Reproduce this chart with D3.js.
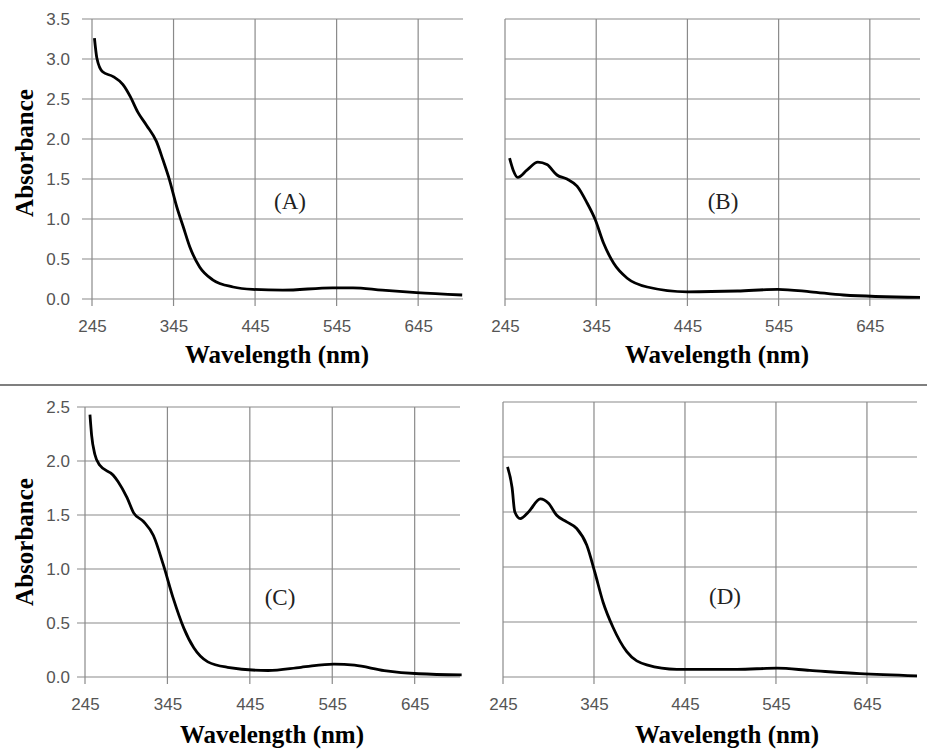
<!DOCTYPE html>
<html>
<head>
<meta charset="utf-8">
<script src="https://cdn.jsdelivr.net/npm/d3@7"></script>
<style>
  body { margin: 0; background: #fff; }
  .tick text { font-family: "Liberation Sans", sans-serif; fill: #555; }
</style>
</head>
<body>
<script>
// spectra (wavelength nm, absorbance)
var wavelengthA = [248, 251, 258, 271, 283, 292, 301, 312, 324, 332, 340, 349, 357, 365, 377, 393, 418, 442, 479, 540, 565, 601, 643, 699];
var absorbA     = [3.26, 3.01, 2.84, 2.78, 2.68, 2.53, 2.34, 2.17, 1.97, 1.74, 1.49, 1.15, 0.90, 0.65, 0.40, 0.24, 0.15, 0.12, 0.11, 0.14, 0.14, 0.11, 0.08, 0.05];

var wavelengthB = [250, 254, 259, 269, 281, 291, 302, 313, 324, 335, 344, 353, 364, 379, 401, 445, 500, 544, 580, 616, 700];
var absorbB     = [1.76, 1.61, 1.52, 1.61, 1.71, 1.68, 1.55, 1.50, 1.41, 1.20, 0.99, 0.70, 0.45, 0.26, 0.15, 0.09, 0.10, 0.12, 0.09, 0.05, 0.02];

var wavelengthC = [251, 253, 257, 263, 279, 285, 296, 304, 316, 328, 340, 352, 365, 377, 394, 418, 467, 507, 547, 572, 608, 650, 702];
var absorbC     = [2.43, 2.24, 2.06, 1.96, 1.87, 1.81, 1.66, 1.52, 1.44, 1.31, 1.04, 0.73, 0.45, 0.27, 0.14, 0.09, 0.06, 0.09, 0.12, 0.11, 0.06, 0.03, 0.02];

var wavelengthD = [250, 255, 258, 264, 273, 286, 295, 304, 315, 326, 337, 346, 355, 366, 381, 403, 436, 502, 546, 582, 637, 700];
var absorbD     = [1.91, 1.72, 1.50, 1.44, 1.50, 1.62, 1.58, 1.47, 1.41, 1.35, 1.20, 0.95, 0.68, 0.45, 0.23, 0.11, 0.07, 0.07, 0.08, 0.06, 0.03, 0.01];

var xTicks = [245, 345, 445, 545, 645];
var yTicksAB = [0, 0.5, 1, 1.5, 2, 2.5, 3, 3.5];
var yTicksCD = [0, 0.5, 1, 1.5, 2, 2.5];
var panelLabels = ["(A)", "(B)", "(C)", "(D)"];

var w = 927, h = 750;

var svg = d3.select("body").append("svg")
    .attr("width", w)
    .attr("height", h);

// layout of each panel on the page
var panels = [
    {x: wavelengthA, y: absorbA, yTicks: yTicksAB, yMax: 3.5, left: 92, right: 463, top: 19, bottom: 299, showY: true, ext: 10,
     label: panelLabels[0], lx: 290, ly: 202, titleX: 277, tickY: 333, titleY: 363, yTitleMid: 153},
    {x: wavelengthB, y: absorbB, yTicks: yTicksAB, yMax: 3.5, left: 505, right: 920, top: 19, bottom: 299, showY: false, ext: 0,
     label: panelLabels[1], lx: 723, ly: 202, titleX: 717, tickY: 333, titleY: 363},
    {x: wavelengthC, y: absorbC, yTicks: yTicksCD, yMax: 2.5, left: 85, right: 460, top: 407, bottom: 677, showY: true, ext: 8,
     label: panelLabels[2], lx: 280, ly: 598, titleX: 272, tickY: 711, titleY: 743, yTitleMid: 542},
    {x: wavelengthD, y: absorbD, yTicks: yTicksCD, yMax: 2.5, left: 503, right: 917, top: 402, bottom: 677, showY: false, ext: 0,
     label: panelLabels[3], lx: 725, ly: 597, titleX: 727, tickY: 711, titleY: 743}
];

panels.forEach(function(p){
    var x = d3.scaleLinear().domain([245, 700]).range([p.left, p.right]);
    var y = d3.scaleLinear().domain([0, p.yMax]).range([p.bottom, p.top]);
    var g = svg.append("g");

    // horizontal gridlines
    g.selectAll(".hgrid")
        .data(p.yTicks)
        .enter()
        .append("line")
        .attr("x1", p.left - p.ext)
        .attr("x2", p.right)
        .attr("y1", function(d){ return y(d); })
        .attr("y2", function(d){ return y(d); })
        .style("stroke", "#8a8a8a")
        .style("stroke-width", 1.2);

    // vertical gridlines
    g.selectAll(".vgrid")
        .data(xTicks)
        .enter()
        .append("line")
        .attr("x1", function(d){ return x(d); })
        .attr("x2", function(d){ return x(d); })
        .attr("y1", p.top)
        .attr("y2", p.bottom + 7)
        .style("stroke", "#8a8a8a")
        .style("stroke-width", 1.2);

    // x tick labels
    var xAxis = d3.axisBottom(x).tickValues(xTicks).tickSize(0).tickPadding(0);
    var xa = g.append("g")
        .attr("transform", "translate(0," + (p.tickY - 13) + ")")
        .call(xAxis);
    xa.select(".domain").remove();
    xa.selectAll("text").attr("dy", "0.71em").style("font-size", "17px");

    if (p.showY) {
        var yAxis = d3.axisLeft(y).tickValues(p.yTicks).tickSize(0).tickPadding(0)
            .tickFormat(d3.format(".1f"));
        var ya = g.append("g")
            .attr("transform", "translate(70,0)")
            .call(yAxis);
        ya.select(".domain").remove();
        ya.selectAll("text").style("font-size", "17px");

        g.append("text")
            .attr("transform", "translate(33," + p.yTitleMid + ") rotate(-90)")
            .attr("text-anchor", "middle")
            .style("font-family", "'Liberation Serif', serif")
            .style("font-weight", "bold")
            .style("font-size", "25px")
            .text("Absorbance");
    }

    // spectrum line
    var pts = p.x.map(function(d, i){ return [d, p.y[i]]; });
    var line = d3.line()
        .x(function(d){ return x(d[0]); })
        .y(function(d){ return y(d[1]); })
        .curve(d3.curveMonotoneX);
    g.append("path")
        .datum(pts)
        .attr("d", line)
        .style("fill", "none")
        .style("stroke", "#000")
        .style("stroke-width", 2.8)
        .style("stroke-linejoin", "round");

    g.append("text")
        .attr("x", p.titleX)
        .attr("y", p.titleY)
        .attr("text-anchor", "middle")
        .style("font-family", "'Liberation Serif', serif")
        .style("font-weight", "bold")
        .style("font-size", "25px")
        .text("Wavelength (nm)");

    g.append("text")
        .attr("x", p.lx)
        .attr("y", p.ly + 7)
        .attr("text-anchor", "middle")
        .style("font-family", "'Liberation Serif', serif")
        .style("font-size", "23px")
        .style("fill", "#222")
        .text(p.label);
});

// separator between the two rows
svg.append("line")
    .attr("x1", 0)
    .attr("x2", w)
    .attr("y1", 385)
    .attr("y2", 385)
    .style("stroke", "#555")
    .style("stroke-width", 1.5);
</script>
</body>
</html>
